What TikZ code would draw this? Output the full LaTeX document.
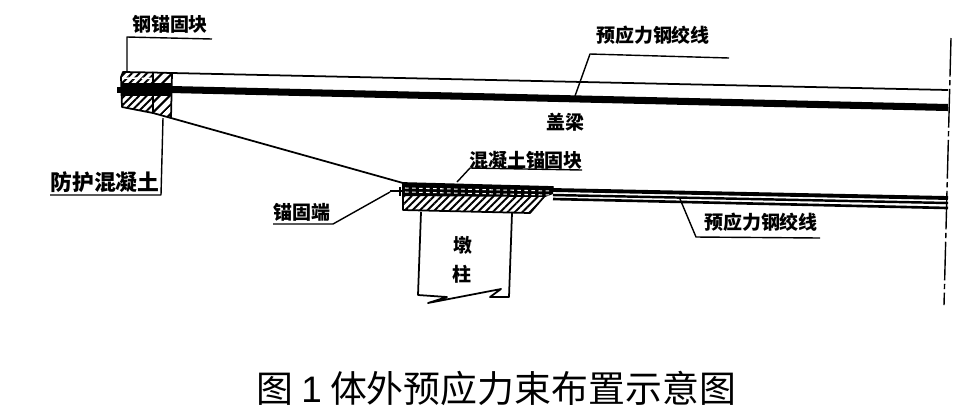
\documentclass[tikz,border=0pt]{standalone}
\usepackage{fontspec}
\usetikzlibrary{patterns.meta}
\newfontfamily\cjk{Noto Sans CJK SC}
\newfontfamily\latin{Liberation Sans}
\tikzset{
	label_text/.style={font=\cjk\fontsize{10.8}{12}\selectfont\bfseries,inner sep=0pt},
	wide_text/.style={font=\cjk\fontsize{12.4}{14}\selectfont\bfseries,inner sep=0pt},
	title_text/.style={font=\cjk\fontsize{21}{24}\selectfont,inner sep=0pt},
	leader/.style={line width=0.8pt},
	outline/.style={line width=1pt},
	hatch_wide/.style={pattern={Lines[angle=45,distance=4pt,line width=1.3pt]}},
	hatch_tight/.style={pattern={Lines[angle=45,distance=3pt,line width=1.1pt]}},
}

\begin{document}
\begin{tikzpicture}[x=0.02cm,y=-0.02cm,line join=round]
		\useasboundingbox (0,0) rectangle (966,414);
		% cap beam
		\coordinate (beam_tl) at (172,73);
		\coordinate (beam_tr) at (948,90);
		\coordinate (beam_bl) at (171,118);
		\coordinate (seat_l) at (403,183);
		\draw[outline] (beam_tl) -- (beam_tr);
		\draw[outline] (beam_bl) -- (seat_l);
		% steel anchor block and protective concrete
		\draw[outline,hatch_tight] (123,72) -- (153,72.5) -- (153,113) -- (122,107) -- (121,77) -- cycle;
		\draw[outline,hatch_wide] (153,72.5) -- (beam_tl) -- (beam_bl) -- (153,113) -- cycle;
		\draw[white,line width=0.9pt,dash pattern=on 9pt off 1pt] (124,78) -- (152,78.5);
		\fill (122,83) rectangle (171,96);
		\fill (117,87) rectangle (124,93);
		% upper tendon
		\coordinate (upper_a) at (171,89.5);
		\coordinate (upper_b) at (948,107.5);
		\draw[line width=4pt] (upper_a) -- (upper_b);
		% lower anchor block
		\draw[outline,hatch_tight] (seat_l) -- (553,187) -- (543,198) -- (530,213) -- (403,210) -- cycle;
		\fill (403,183) -- (553,187) -- (553,194) -- (545,197) -- (403,196) -- cycle;
		\foreach\i in {188,192}
		{
			\draw[white,line width=0.6pt,dash pattern=on 2pt off 2pt] (405,\i) -- (551,\i+3);
		}
		% lower tendons
		\foreach\i/\j/\w in {190/198/2.2,195/203/1.4,199/208/1.5}
		{
			\draw[line width=\w pt] (553,\i) -- (948,\j);
		}
		\draw[line width=1.4pt] (390,191) -- (403,191);
		\draw[line width=1pt] (400,187) -- (400,196);
		% pier
		\coordinate (pier_tl) at (421,212);
		\coordinate (pier_bl) at (418,295);
		\coordinate (pier_tr) at (512,213);
		\coordinate (pier_br) at (509,297);
		\draw[outline] (pier_tl) -- (pier_bl) -- (447,297) -- (428,303) -- (501,289) -- (490,297) -- (pier_br) -- (pier_tr);
		\node[label_text] (pier_a) at (463,245) {墩};
		\node[label_text] (pier_b) at (462,274) {柱};
		% centre line
		\coordinate (axis_a) at (951,38);
		\coordinate (axis_b) at (944,305);
		\draw[line width=0.8pt,dash pattern=on 22pt off 2pt on 3pt off 2pt] (axis_a) -- (axis_b);
		% labels and their leaders
		\node[label_text] (anchor_steel) at (170,24) {钢锚固块};
		\coordinate (lead_a0) at (127,71);
		\coordinate (lead_a1) at (127,37);
		\coordinate (lead_a2) at (212,39);
		\draw[leader] (lead_a0) -- (lead_a1) -- (lead_a2);
		\node[label_text] (strand_top) at (653,35) {预应力钢绞线};
		\coordinate (lead_b0) at (575,96);
		\coordinate (lead_b1) at (590,54);
		\coordinate (lead_b2) at (729,58);
		\draw[leader] (lead_b0) -- (lead_b1) -- (lead_b2);
		\node[label_text] (beam) at (565,122) {盖梁};
		\node[wide_text] (protect) at (105,182) {防护混凝土};
		\coordinate (lead_c0) at (163,118);
		\coordinate (lead_c1) at (161,195);
		\coordinate (lead_c2) at (50,195);
		\draw[leader] (lead_c0) -- (lead_c1) -- (lead_c2);
		\node[label_text] (anchor_end) at (302,212) {锚固端};
		\coordinate (lead_d0) at (390,192);
		\coordinate (lead_d1) at (333,224);
		\coordinate (lead_d2) at (273,224);
		\draw[leader] (lead_d0) -- (lead_d1) -- (lead_d2);
		\node[label_text] (anchor_conc) at (526,160) {混凝土锚固块};
		\coordinate (lead_e0) at (457,182);
		\coordinate (lead_e1) at (470,168);
		\coordinate (lead_e2) at (582,170);
		\draw[leader] (lead_e0) -- (lead_e1) -- (lead_e2);
		\node[label_text] (strand_low) at (761,222) {预应力钢绞线};
		\coordinate (lead_f0) at (680,199);
		\coordinate (lead_f1) at (696,237);
		\coordinate (lead_f2) at (820,238);
		\draw[leader] (lead_f0) -- (lead_f1) -- (lead_f2);
		% title
		\node[title_text] (title) at (496,388) {图 {\latin 1} 体外预应力束布置示意图};
	\end{tikzpicture}
\end{document}
